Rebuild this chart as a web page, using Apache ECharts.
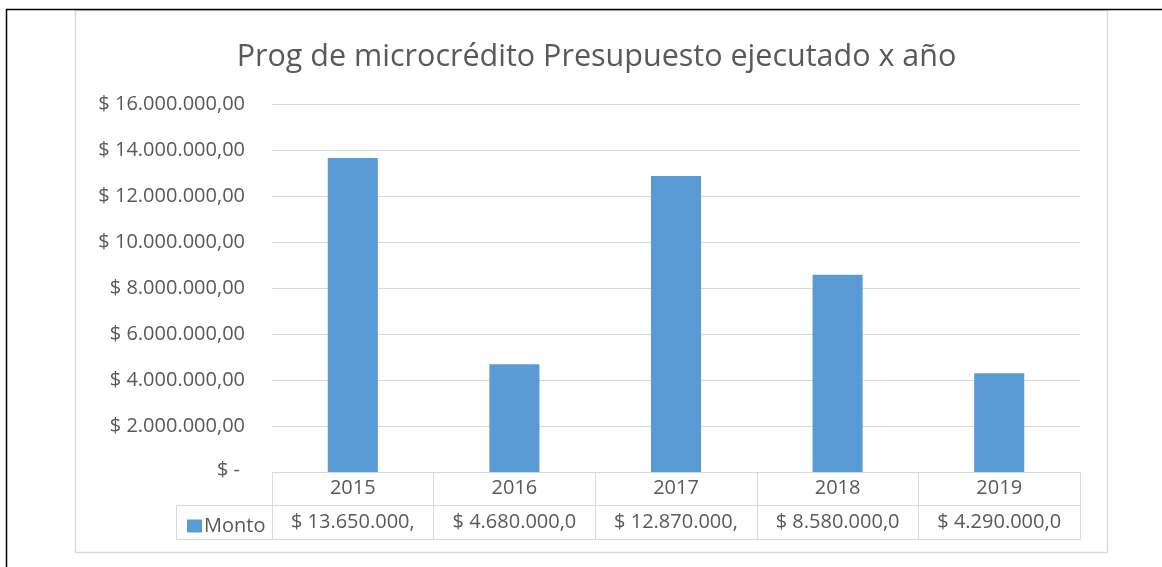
<!DOCTYPE html>
<html>
<head>
<meta charset="utf-8">
<script src="https://cdn.jsdelivr.net/npm/echarts@6/dist/echarts.min.js"></script>
<style>
  html, body { margin: 0; padding: 0; background: #ffffff; }
  #chart { width: 1162px; height: 567px; }
</style>
</head>
<body>
<div id="chart"></div>
<script>
// Executed budget of the microcredit programme, by year
const titleText = 'Prog de microcrédito Presupuesto ejecutado x año';
const seriesName = 'Monto';
const years = ['2015', '2016', '2017', '2018', '2019'];
const amounts = [13650000, 4680000, 12870000, 8580000, 4290000];
const yTicks = [0, 2000000, 4000000, 6000000, 8000000, 10000000, 12000000, 14000000, 16000000];

const FONT = '"Open Sans", "Liberation Sans", sans-serif';
const TEXT = '#595959';
const LINE = '#d9d9d9';
const BAR = '#5b9bd5';
const FS = 20;

// Plot area and data-table geometry
const W = 1162, H = 567;
const PLOT_L = 272, PLOT_R = 1080, PLOT_T = 104, PLOT_B = 472;
const ROW_H = 34;           // height of a table row
const KEY_L = 176;          // left edge of the legend-key cell

// "$ 16.000.000,00" style: dot thousands, comma decimals
function money(v) {
  const parts = v.toFixed(2).split('.');
  const intPart = parts[0].replace(/\B(?=(\d{3})+(?!\d))/g, '.');
  return '$ ' + intPart + ',' + parts[1];
}
function axisMoney(v) {
  return v === 0 ? '{zero|$ -}' : money(v);
}
// table cells clip the value text to the column width
function cellMoney(v) {
  return money(v).slice(0, 13);
}

const chart = echarts.init(document.getElementById('chart'), null, { renderer: 'canvas' });

const option = {
  backgroundColor: '#ffffff',
  animation: false,
  title: {
    text: titleText,
    left: (75 + 1108) / 2,
    textAlign: 'center',
    top: 37,
    textStyle: { fontFamily: FONT, fontSize: 30.5, fontWeight: 'normal', color: TEXT }
  },
  legend: {
    data: [seriesName],
    left: 182,
    top: PLOT_B + ROW_H + 5,
    icon: 'rect',
    itemWidth: 15,
    itemHeight: 13,
    itemGap: 4,
    textStyle: { fontFamily: FONT, fontSize: FS, color: TEXT, padding: [0, 0, 0, -3] }
  },
  grid: {
    left: PLOT_L,
    right: W - PLOT_R,
    top: PLOT_T,
    bottom: H - PLOT_B,
    containLabel: false
  },
  xAxis: [
    {
      type: 'category',
      data: years,
      position: 'bottom',
      boundaryGap: true,
      axisLine: { show: true, lineStyle: { color: LINE, width: 1 } },
      axisTick: { show: true, interval: 0, length: ROW_H * 2, lineStyle: { color: LINE, width: 1 } },
      axisLabel: { interval: 0, margin: 6, fontFamily: FONT, fontSize: FS, color: TEXT }
    },
    {
      type: 'category',
      data: amounts.map(cellMoney),
      position: 'bottom',
      offset: ROW_H,
      boundaryGap: true,
      axisLine: { show: false },
      axisTick: { show: false },
      axisLabel: { interval: 0, margin: 6, fontFamily: FONT, fontSize: FS, color: TEXT }
    }
  ],
  yAxis: {
    type: 'value',
    min: yTicks[0],
    max: yTicks[yTicks.length - 1],
    interval: yTicks[1] - yTicks[0],
    axisLine: { show: false },
    axisTick: { show: false },
    splitLine: { show: true, lineStyle: { color: LINE, width: 1 } },
    axisLabel: {
      margin: 27,
      fontFamily: FONT,
      fontSize: FS,
      color: TEXT,
      formatter: axisMoney,
      rich: {
        zero: { fontFamily: FONT, fontSize: FS, color: TEXT, padding: [0, 5, 4, 0] }
      }
    }
  },
  series: [
    {
      name: seriesName,
      type: 'bar',
      data: amounts,
      barWidth: '31%',
      itemStyle: { color: BAR },
      xAxisIndex: 0
    }
  ],
  graphic: [
    // outer frame lines
    { type: 'line', shape: { x1: 6, y1: 9.5, x2: W, y2: 9.5 }, style: { stroke: '#000000', lineWidth: 1.5 }, z: 100 },
    { type: 'line', shape: { x1: 6.5, y1: 9, x2: 6.5, y2: H }, style: { stroke: '#000000', lineWidth: 1.5 }, z: 100 },
    // chart area border
    { type: 'rect', shape: { x: 75.5, y: 10.5, width: 1032, height: 542 }, style: { fill: 'none', stroke: LINE, lineWidth: 1.5 }, z: -1 },
    // data table rules
    { type: 'line', shape: { x1: KEY_L, y1: PLOT_B + ROW_H - 0.5, x2: PLOT_R, y2: PLOT_B + ROW_H - 0.5 }, style: { stroke: LINE, lineWidth: 1 } },
    { type: 'line', shape: { x1: KEY_L, y1: PLOT_B + ROW_H * 2 - 0.5, x2: PLOT_R, y2: PLOT_B + ROW_H * 2 - 0.5 }, style: { stroke: LINE, lineWidth: 1 } },
    { type: 'line', shape: { x1: KEY_L + 0.5, y1: PLOT_B + ROW_H - 0.5, x2: KEY_L + 0.5, y2: PLOT_B + ROW_H * 2 - 0.5 }, style: { stroke: LINE, lineWidth: 1 } }
  ]
};

chart.setOption(option);
</script>
</body>
</html>
